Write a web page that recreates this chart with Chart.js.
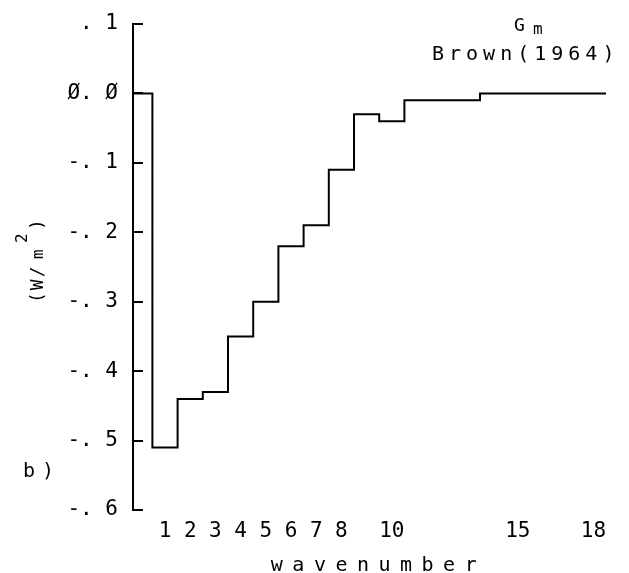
<!DOCTYPE html>
<html>
<head>
<meta charset="utf-8">
<script src="https://cdn.jsdelivr.net/npm/chart.js@4.4.1/dist/chart.umd.min.js"></script>
<style>
html,body{margin:0;padding:0;background:#fff;}
canvas{display:block;}
</style>
</head>
<body>
<canvas id="c" width="629" height="573"></canvas>
<script>
// ---- data ----
const wavenumbers = [1, 2, 3, 4, 5, 6, 7, 8, 9, 10, 11, 12, 13, 14, 15, 16, 17, 18];
const values = [-0.51, -0.44, -0.43, -0.35, -0.30, -0.22, -0.19, -0.11, -0.03, -0.04, -0.01, -0.01, -0.01, 0, 0, 0, 0, 0];
const xTickValues = [1, 2, 3, 4, 5, 6, 7, 8, 10, 15, 18];
const yTickValues = [0.1, 0, -0.1, -0.2, -0.3, -0.4, -0.5, -0.6];
const yTickLabels = ['. 1', 'Ø. Ø', '-. 1', '-. 2', '-. 3', '-. 4', '-. 5', '-. 6'];
const xAxisTitle = 'wavenumber';
const yTitleParts = ['(W/', 'm', '2', ')'];
const seriesName = 'G';
const seriesSub = 'm';
const sourceLabel = 'Brown(1964)';
const panelLabel = 'b)';

// ---- axis ranges ----
const X_MIN = -0.27, X_MAX = 18.5;
const Y_MIN = -0.6, Y_MAX = 0.1;
const FONT = '"DejaVu Sans Mono", monospace';

// step outline built from bins centred on each wavenumber
const stepPoints = [{x: X_MIN, y: 0}];
wavenumbers.forEach((w, i) => stepPoints.push({x: w - 0.5, y: values[i]}));
stepPoints.push({x: wavenumbers[wavenumbers.length - 1] + 0.5, y: values[values.length - 1]});

const annotations = {
  id: 'annotations',
  beforeDraw(chart) {
    const s = chart.scales.x;
    if (!s.__spaced) {
      const orig = s.drawTitle;
      s.drawTitle = function () {
        this.ctx.save();
        this.ctx.letterSpacing = '9.5px';
        this.ctx.translate(9, 3);
        orig.call(this);
        this.ctx.restore();
      };
      s.__spaced = true;
    }
  },
  afterDraw(chart) {
    const ctx = chart.ctx;
    ctx.save();
    ctx.fillStyle = '#000';
    ctx.textAlign = 'left';
    ctx.textBaseline = 'alphabetic';
    ctx.font = '18px ' + FONT;
    ctx.fillText(seriesName, 514, 31);
    ctx.font = '16px ' + FONT;
    ctx.fillText(seriesSub, 533, 34);
    ctx.font = '20px ' + FONT;
    ctx.letterSpacing = '5px';
    ctx.fillText(sourceLabel, 432, 60);
    ctx.letterSpacing = '7px';
    ctx.fillText(panelLabel, 23, 477);
    // rotated y-axis title (W/m^2)
    ctx.translate(43, 303);
    ctx.rotate(-Math.PI / 2);
    ctx.letterSpacing = '2px';
    ctx.font = '18px ' + FONT;
    ctx.fillText(yTitleParts[0], 0, 0);
    ctx.font = '16px ' + FONT;
    ctx.fillText(yTitleParts[1], 44, 0);
    ctx.fillText(yTitleParts[2], 60, -16);
    ctx.font = '18px ' + FONT;
    ctx.fillText(yTitleParts[3], 73, 0);
    ctx.restore();
  }
};

new Chart(document.getElementById('c'), {
  type: 'line',
  data: {
    datasets: [{
      label: seriesName + seriesSub,
      data: stepPoints,
      stepped: true,
      borderColor: '#000',
      borderWidth: 2,
      pointRadius: 0,
      fill: false
    }]
  },
  options: {
    responsive: false,
    animation: false,
    layout: {padding: {left: 0, right: 23, top: 24, bottom: 0}},
    plugins: {legend: {display: false}, tooltip: {enabled: false}},
    scales: {
      x: {
        type: 'linear',
        min: X_MIN,
        max: X_MAX,
        afterBuildTicks: (scale) => { scale.ticks = xTickValues.map(v => ({value: v})); },
        afterFit: (scale) => { scale.height = 63; },
        grid: {display: false},
        border: {display: false},
        ticks: {
          autoSkip: false,
          maxRotation: 0,
          padding: 1,
          color: '#000',
          font: {family: FONT, size: 21},
          callback: (v) => String(v)
        },
        title: {
          display: true,
          text: xAxisTitle,
          color: '#000',
          padding: {top: 0, bottom: 0},
          font: {family: FONT, size: 20, lineHeight: 1}
        }
      },
      y: {
        type: 'linear',
        min: Y_MIN,
        max: Y_MAX,
        afterBuildTicks: (scale) => { scale.ticks = yTickValues.map(v => ({value: v})); },
        afterFit: (scale) => { scale.width = 133; scale.paddingTop = 0; scale.paddingBottom = 0; },
        grid: {
          drawOnChartArea: false,
          drawTicks: true,
          tickLength: -10,
          lineWidth: 2,
          color: '#000'
        },
        border: {display: true, color: '#000', width: 2},
        ticks: {
          autoSkip: false,
          padding: 25,
          color: '#000',
          font: {family: FONT, size: 21},
          callback: (v, i) => yTickLabels[i]
        }
      }
    }
  },
  plugins: [annotations]
});
</script>
</body>
</html>
